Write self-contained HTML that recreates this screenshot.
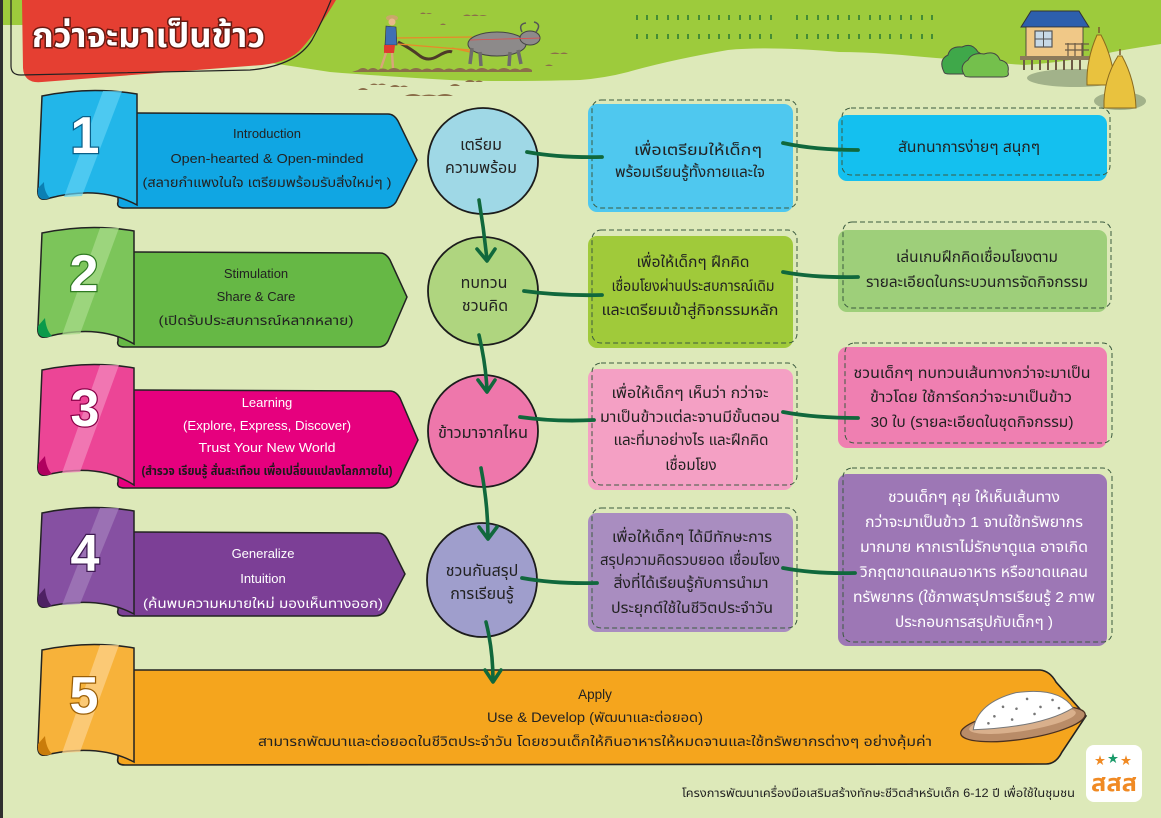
<!DOCTYPE html>
<html><head><meta charset="utf-8">
<style>
html,body{margin:0;padding:0;width:1161px;height:818px;overflow:hidden;background:#dde9b9}
svg{display:block}
text{font-family:"Liberation Sans","Noto Sans Thai","Noto Sans Thai UI","Loma","Garuda","Tlwg Typo","Norasi","Noto Sans CJK SC",sans-serif}
</style></head><body>
<svg width="1161" height="818" viewBox="0 0 1161 818" xmlns="http://www.w3.org/2000/svg">
<rect width="1161" height="818" fill="#dde9b9"/>
<!-- top green hill -->
<path d="M0,0 H1161 V44 Q1135,48 1113,52 Q1070,62 1024,65 Q960,60 913,56 Q870,52 839,52 Q770,46 728,50 Q670,60 628,72 Q605,78 580,80 Q500,82 450,80 Q380,76 330,72 L22,25 L0,25 Z" fill="#9dcb3c"/>
<rect x="0" y="0" width="3" height="818" fill="#2f2f2f"/>

<!-- title banner -->
<path d="M22,0 L336,0 Q318,30 302,48 Q290,62 262,65 L42,82 Q24,84 23,68 Z" fill="#e53f32"/>
<path d="M11,0 L11,66 Q11,75 21,75 L250,70 Q296,66 312,40 Q323,20 331,0" fill="none" stroke="#222" stroke-width="1.2"/>
<text x="32" y="47" font-size="34" font-weight="bold" fill="#fff" stroke="#6a1a12" stroke-width="3" paint-order="stroke" textLength="233" lengthAdjust="spacingAndGlyphs">กว่าจะมาเป็นข้าว</text>

<!-- farmer & buffalo scene -->
<g fill="#8b6e4a">
<path d="M358,70 q5,-4 10,0 q5,-4 10,0 q5,-3 10,0 q6,-4 12,0 q5,-3 10,0 q6,-4 12,0 q5,-3 10,0 q6,-4 12,0 q5,-3 10,0 q6,-4 12,0 q5,-3 10,0 q6,-4 12,0 q5,-3 10,0 q6,-4 12,0 q5,-3 10,0 q6,-4 12,0 l0,2 l-180,0z"/>
<path d="M420,14 q3,-3 6,0 q3,-2 6,0z M463,16 q4,-3 8,0 q4,-3 8,0 q4,-2 8,0z M440,25 q3,-3 6,0z M550,54 q5,-3 10,0 q4,-3 8,0z"/>
<path d="M358,90 q5,-4 10,0z M370,85 q4,-3 8,0 q4,-3 8,0z M390,87 q5,-4 10,0 q4,-3 8,0z M405,96 q8,-4 16,0 q8,-3 16,0 q8-4 16,0z M450,86 q5,-4 10,0z M465,82 q5,-4 10,0 q4,-3 8,0z M545,66 q4,-3 8,0z"/>
</g>
<path d="M398,42 Q410,48 420,56 Q428,62 438,56 Q448,50 452,52" fill="none" stroke="#4d3a28" stroke-width="3"/>
<path d="M396,38 L472,37 M398,44 L470,50 M452,48 L470,52" stroke="#e8892a" stroke-width="1.3" fill="none"/>
<ellipse cx="392" cy="18" rx="6" ry="3" fill="#c9a86a"/>
<circle cx="392" cy="22" r="3.5" fill="#e8b98a"/>
<path d="M386,26 L396,27 L397,45 L385,45 Z" fill="#3f6fb5" stroke="#333" stroke-width=".6"/>
<path d="M384,45 L395,45 L394,53 L384,53 Z" fill="#e03a2f"/>
<path d="M386,53 L381,68 M392,53 L393,68" stroke="#d9a57a" stroke-width="2.4"/>
<g stroke="#444" stroke-width="1">
<ellipse cx="497" cy="44" rx="29" ry="12" fill="#8d8a8a"/>
<path d="M472,48 L470,64 M480,52 L481,66 M510,52 L509,66 M518,50 L521,64" stroke="#6e6b6b" stroke-width="3.5"/>
<ellipse cx="530" cy="38" rx="10" ry="7" fill="#8d8a8a"/>
<path d="M522,32 q-4,-8 4,-9 M536,32 q6,-8 -2,-10" fill="none" stroke="#555" stroke-width="1.5"/>
</g>
<path d="M470,40 L540,38" stroke="#e34a4a" stroke-width=".8"/>

<!-- rice sprouts -->
<path d="M637,15v5M647,15v5M657,15v5M668,15v5M678,15v5M688,15v5M699,15v5M709,15v5M719,15v5M729,15v5M740,15v5M750,15v5M760,15v5M771,15v5M797,15v5M807,15v5M818,15v5M828,15v5M838,15v5M849,15v5M859,15v5M870,15v5M880,15v5M890,15v5M901,15v5M911,15v5M922,15v5M932,15v5M637,34v5M647,34v5M657,34v5M668,34v5M678,34v5M688,34v5M699,34v5M709,34v5M719,34v5M729,34v5M740,34v5M750,34v5M760,34v5M771,34v5M797,34v5M807,34v5M818,34v5M828,34v5M838,34v5M849,34v5M859,34v5M870,34v5M880,34v5M890,34v5M901,34v5M911,34v5M922,34v5M932,34v5" stroke="#2e7d32" stroke-width="1.6"/>

<!-- house, bushes, haystacks -->
<ellipse cx="1075" cy="78" rx="48" ry="9" fill="#a2b28a"/>
<ellipse cx="1120" cy="101" rx="26" ry="9" fill="#a2b28a"/>
<path d="M944,72 Q938,60 948,55 Q950,46 962,47 Q972,42 978,52 Q986,56 982,66 Q986,72 978,74 L950,74 Q944,74 944,72Z" fill="#3fa84a" stroke="#444" stroke-width="1"/>
<path d="M965,76 Q958,66 968,60 Q972,52 984,54 Q996,50 1000,60 Q1010,62 1008,72 Q1010,77 1002,77 L972,77 Q965,77 965,76Z" fill="#74c04c" stroke="#444" stroke-width="1"/>
<path d="M1021,27 L1031,11 L1079,11 L1089,27 Z" fill="#2d5fad" stroke="#333" stroke-width="1"/>
<rect x="1026" y="27" width="57" height="30" fill="#f0c887" stroke="#333" stroke-width=".8"/>
<rect x="1035" y="31" width="17" height="16" fill="#c7d9e6" stroke="#555" stroke-width="1.2"/>
<path d="M1043.5,31v16M1035,39h17" stroke="#555" stroke-width="1"/>
<path d="M1065,44h24M1065,50h24M1068,43v14M1075,43v14M1082,43v14" stroke="#6b5b45" stroke-width="1.2"/>
<rect x="1020" y="56" width="75" height="4" fill="#8c7a5a"/>
<path d="M1024,60v10M1032,60v10M1040,60v10M1048,60v10M1056,60v10M1064,60v10M1072,60v10M1080,60v10" stroke="#6b5b45" stroke-width="2"/>
<path d="M1097,35 Q1086,60 1087,85 L1115,85 Q1113,58 1101,35 Z" fill="#e9c23e" stroke="#8a6a1e" stroke-width="1"/>
<path d="M1118,56 Q1103,80 1104,108 L1136,108 Q1135,80 1122,56 Z" fill="#e9c23e" stroke="#8a6a1e" stroke-width="1"/>
<path d="M1099,33v-6M1120,55v-6" stroke="#7a5a2e" stroke-width="1.5"/>

<!-- ===== Row banners ===== -->
<!-- row1 -->
<path d="M118,115 Q120,113 135,113 L388,114 Q394,114 398,121 L417,160 L396,202 Q392,208 384,208 L125,208 Q116,208 118,202 Z" fill="#10a6e3" stroke="#222" stroke-width="1.5"/>
<path d="M42,96 Q90,86 137,94 L137,205 Q100,185 50,198 Q36,203 38,188 L42,96 Z" fill="#22b6e9" stroke="#222" stroke-width="1.5"/>
<path d="M103,91 L122,91 L82,196 L64,197 Z" fill="#5fd2f4" opacity=".7"/>
<path d="M38,188 Q36,203 50,198 Q44,192 44,182 Z" fill="#0b7fb3"/>
<text x="85" y="153" font-size="52" font-weight="bold" fill="#fff" text-anchor="middle" stroke="#0a5f88" stroke-width="2.5" paint-order="stroke">1</text>
<g font-size="13" fill="#222" text-anchor="middle">
<text x="267" y="138">Introduction</text>
<text x="267" y="163" textLength="193" lengthAdjust="spacingAndGlyphs">Open-hearted &amp; Open-minded</text>
<text x="267" y="187" textLength="249" lengthAdjust="spacingAndGlyphs">(สลายกำแพงในใจ เตรียมพร้อมรับสิ่งใหม่ๆ )</text>
</g>

<!-- row2 -->
<path d="M118,254 Q120,252 135,252 L380,253 Q386,253 390,260 L407,297 L388,341 Q385,347 378,347 L125,347 Q116,347 118,341 Z" fill="#66b845" stroke="#222" stroke-width="1.5"/>
<path d="M42,233 Q90,223 134,231 L134,344 Q100,324 50,336 Q36,341 38,326 L42,233 Z" fill="#7cc55a" stroke="#222" stroke-width="1.5"/>
<path d="M100,228 L119,228 L80,334 L62,335 Z" fill="#a7d98a" opacity=".75"/>
<path d="M38,326 Q36,341 52,336 Q46,330 45,318 Z" fill="#0a9a4a"/>
<text x="84" y="291" font-size="52" font-weight="bold" fill="#fff" text-anchor="middle" stroke="#2f7a22" stroke-width="2.5" paint-order="stroke">2</text>
<g font-size="13" fill="#222" text-anchor="middle">
<text x="256" y="278">Stimulation</text>
<text x="256" y="301">Share &amp; Care</text>
<text x="256" y="325" textLength="195" lengthAdjust="spacingAndGlyphs">(เปิดรับประสบการณ์หลากหลาย)</text>
</g>

<!-- row3 -->
<path d="M118,392 Q120,390 135,390 L390,391 Q396,391 400,398 L418,440 L398,482 Q394,488 386,488 L125,488 Q116,488 118,482 Z" fill="#e6007e" stroke="#222" stroke-width="1.5"/>
<path d="M42,370 Q90,360 134,368 L134,485 Q100,463 50,474 Q36,479 38,464 L42,370 Z" fill="#ec4596" stroke="#222" stroke-width="1.5"/>
<path d="M100,365 L119,365 L80,472 L62,473 Z" fill="#f387bb" opacity=".75"/>
<path d="M38,464 Q36,479 52,474 Q46,468 45,456 Z" fill="#b0005f"/>
<text x="85" y="426" font-size="52" font-weight="bold" fill="#fff" text-anchor="middle" stroke="#8a0048" stroke-width="2.5" paint-order="stroke">3</text>
<g font-size="13" fill="#fff" text-anchor="middle">
<text x="267" y="407">Learning</text>
<text x="267" y="430" textLength="168" lengthAdjust="spacingAndGlyphs">(Explore, Express, Discover)</text>
<text x="267" y="452" textLength="137" lengthAdjust="spacingAndGlyphs">Trust Your New World</text>
</g>
<text x="267" y="475" font-size="12" font-weight="bold" fill="#1a1a1a" text-anchor="middle" textLength="251" lengthAdjust="spacingAndGlyphs">(สำรวจ เรียนรู้ สั่นสะเทือน เพื่อเปลี่ยนแปลงโลกภายใน)</text>

<!-- row4 -->
<path d="M118,534 Q120,532 135,532 L378,533 Q384,533 388,540 L405,574 L386,610 Q382,616 374,616 L125,616 Q116,616 118,610 Z" fill="#7c3f96" stroke="#222" stroke-width="1.5"/>
<path d="M42,513 Q90,503 134,511 L134,614 Q100,596 50,606 Q36,611 38,596 L42,513 Z" fill="#8650a2" stroke="#222" stroke-width="1.5"/>
<path d="M100,508 L119,508 L80,604 L62,605 Z" fill="#a27cba" opacity=".75"/>
<path d="M38,596 Q36,611 52,606 Q46,600 45,588 Z" fill="#4e2163"/>
<text x="85" y="571" font-size="52" font-weight="bold" fill="#fff" text-anchor="middle" stroke="#3e1a52" stroke-width="2.5" paint-order="stroke">4</text>
<g font-size="13" fill="#fff" text-anchor="middle">
<text x="263" y="558">Generalize</text>
<text x="263" y="583">Intuition</text>
<text x="263" y="608" textLength="240" lengthAdjust="spacingAndGlyphs">(ค้นพบความหมายใหม่ มองเห็นทางออก)</text>
</g>

<!-- row5 -->
<path d="M118,672 Q120,670 135,670 L1040,670 Q1050,671 1056,682 L1086,716 L1062,752 Q1056,764 1046,764 L125,765 Q116,765 118,758 Z" fill="#f5a51d" stroke="#222" stroke-width="1.6"/>
<path d="M42,650 Q90,640 134,648 L134,762 Q100,744 50,754 Q36,759 38,744 L42,650 Z" fill="#f7b23a" stroke="#222" stroke-width="1.5"/>
<path d="M100,645 L119,645 L80,752 L62,753 Z" fill="#fcd08a" opacity=".75"/>
<path d="M38,744 Q36,759 52,754 Q46,748 45,736 Z" fill="#c97c0a"/>
<text x="84" y="713" font-size="52" font-weight="bold" fill="#fff" text-anchor="middle" stroke="#9a5e06" stroke-width="2.5" paint-order="stroke">5</text>
<g font-size="13.5" fill="#222" text-anchor="middle">
<text x="595" y="699">Apply</text>
<text x="595" y="722" textLength="216" lengthAdjust="spacingAndGlyphs">Use &amp; Develop (พัฒนาและต่อยอด)</text>
<text x="595" y="746" textLength="674" lengthAdjust="spacingAndGlyphs">สามารถพัฒนาและต่อยอดในชีวิตประจำวัน โดยชวนเด็กให้กินอาหารให้หมดจานและใช้ทรัพยากรต่างๆ อย่างคุ้มค่า</text>
</g>

<!-- plate -->
<g transform="rotate(-9 1022 718)">
<ellipse cx="1022" cy="724" rx="63" ry="15" fill="#b98c68" stroke="#4a3020" stroke-width="1.3"/>
<ellipse cx="1022" cy="721" rx="54" ry="10" fill="#d9b08c"/>
<path d="M972,722 Q980,696 1020,692 Q1064,693 1074,716 Q1040,730 972,722 Z" fill="#fff" stroke="#777" stroke-width="1"/>
<g fill="#777"><circle cx="995" cy="712" r="1.3"/><circle cx="1005" cy="704" r="1.3"/><circle cx="1018" cy="708" r="1.3"/><circle cx="1030" cy="700" r="1.3"/><circle cx="1042" cy="710" r="1.3"/><circle cx="1055" cy="705" r="1.3"/><circle cx="1012" cy="718" r="1.3"/><circle cx="1035" cy="716" r="1.3"/><circle cx="1060" cy="714" r="1.3"/><circle cx="988" cy="718" r="1.3"/></g>
</g>

<!-- ===== circles ===== -->
<g stroke="#1c1c1c" stroke-width="1.8">
<ellipse cx="483" cy="161" rx="55" ry="53" fill="#9fd8e6"/>
<ellipse cx="483" cy="291" rx="55" ry="54" fill="#afd57f"/>
<ellipse cx="483" cy="431" rx="55" ry="56" fill="#ee77ab"/>
<ellipse cx="482" cy="580" rx="55" ry="57" fill="#9f9ecc"/>
</g>
<g font-size="16" fill="#222" text-anchor="middle">
<text x="481" y="150">เตรียม</text>
<text x="481" y="173">ความพร้อม</text>
<text x="484" y="288">ทบทวน</text>
<text x="485" y="311">ชวนคิด</text>
<text x="483" y="438" textLength="90" lengthAdjust="spacingAndGlyphs">ข้าวมาจากไหน</text>
<text x="482" y="576">ชวนกันสรุป</text>
<text x="482" y="599">การเรียนรู้</text>
</g>

<!-- arrows between circles -->
<g fill="none" stroke="#10683c" stroke-width="3.6" stroke-linecap="round" stroke-linejoin="round">
<path d="M479,200 Q484,230 487,260"/><path d="M477,249 L487,261 L495,249"/>
<path d="M479,335 Q486,365 487,391"/><path d="M478,380 L487,392 L495,380"/>
<path d="M481,468 Q488,505 488,538"/><path d="M479,527 L488,539 L497,527"/>
<path d="M486,622 Q493,650 493,681"/><path d="M485,670 L493,682 L501,670"/>
</g>

<!-- ===== boxes column 1 ===== -->
<g>
<rect x="588" y="104" width="205" height="108" rx="9" fill="#4fc8ef"/>
<rect x="592" y="100" width="205" height="108" rx="9" fill="none" stroke="#3b5a3f" stroke-width="1" stroke-dasharray="5 3"/>
<rect x="588" y="236" width="205" height="112" rx="9" fill="#a0ca3a"/>
<rect x="592" y="230" width="205" height="113" rx="9" fill="none" stroke="#3b5a3f" stroke-width="1" stroke-dasharray="5 3"/>
<rect x="588" y="369" width="205" height="121" rx="9" fill="#f4a0c4"/>
<rect x="592" y="363" width="205" height="122" rx="9" fill="none" stroke="#3b5a3f" stroke-width="1" stroke-dasharray="5 3"/>
<rect x="588" y="513" width="205" height="119" rx="9" fill="#a98dc0"/>
<rect x="592" y="508" width="205" height="120" rx="9" fill="none" stroke="#3b5a3f" stroke-width="1" stroke-dasharray="5 3"/>
</g>
<g font-size="15" fill="#222" text-anchor="middle">
<text x="698" y="155" textLength="128" lengthAdjust="spacingAndGlyphs">เพื่อเตรียมให้เด็กๆ</text>
<text x="690" y="177" textLength="150" lengthAdjust="spacingAndGlyphs">พร้อมเรียนรู้ทั้งกายและใจ</text>
<text x="693" y="267" textLength="113" lengthAdjust="spacingAndGlyphs">เพื่อให้เด็กๆ ฝึกคิด</text>
<text x="693" y="291" textLength="163" lengthAdjust="spacingAndGlyphs">เชื่อมโยงผ่านประสบการณ์เดิม</text>
<text x="690" y="315" textLength="177" lengthAdjust="spacingAndGlyphs">และเตรียมเข้าสู่กิจกรรมหลัก</text>
<text x="690" y="398" textLength="157" lengthAdjust="spacingAndGlyphs">เพื่อให้เด็กๆ เห็นว่า กว่าจะ</text>
<text x="690" y="422" textLength="180" lengthAdjust="spacingAndGlyphs">มาเป็นข้าวแต่ละจานมีขั้นตอน</text>
<text x="691" y="445" textLength="155" lengthAdjust="spacingAndGlyphs">และที่มาอย่างไร และฝึกคิด</text>
<text x="691" y="470">เชื่อมโยง</text>
<text x="692" y="542" textLength="160" lengthAdjust="spacingAndGlyphs">เพื่อให้เด็กๆ ได้มีทักษะการ</text>
<text x="690" y="565" textLength="180" lengthAdjust="spacingAndGlyphs">สรุปความคิดรวบยอด เชื่อมโยง</text>
<text x="691" y="588" textLength="155" lengthAdjust="spacingAndGlyphs">สิ่งที่ได้เรียนรู้กับการนำมา</text>
<text x="692" y="613" textLength="162" lengthAdjust="spacingAndGlyphs">ประยุกต์ใช้ในชีวิตประจำวัน</text>
</g>

<!-- ===== boxes column 2 ===== -->
<g>
<rect x="838" y="115" width="269" height="66" rx="9" fill="#14c0ef"/>
<rect x="842" y="108" width="268" height="67" rx="9" fill="none" stroke="#3b5a3f" stroke-width="1" stroke-dasharray="5 3"/>
<rect x="838" y="230" width="269" height="82" rx="9" fill="#9ecf7a"/>
<rect x="843" y="222" width="268" height="86" rx="9" fill="none" stroke="#3b5a3f" stroke-width="1" stroke-dasharray="5 3"/>
<rect x="838" y="347" width="269" height="101" rx="9" fill="#ef7fb1"/>
<rect x="845" y="343" width="267" height="100" rx="9" fill="none" stroke="#3b5a3f" stroke-width="1" stroke-dasharray="5 3"/>
<rect x="838" y="474" width="269" height="172" rx="9" fill="#9d77b5"/>
<rect x="843" y="468" width="269" height="174" rx="9" fill="none" stroke="#3b5a3f" stroke-width="1" stroke-dasharray="5 3"/>
</g>
<g font-size="15" fill="#222" text-anchor="middle">
<text x="969" y="152" textLength="142" lengthAdjust="spacingAndGlyphs">สันทนาการง่ายๆ สนุกๆ</text>
<text x="977" y="262" textLength="162" lengthAdjust="spacingAndGlyphs">เล่นเกมฝึกคิดเชื่อมโยงตาม</text>
<text x="977" y="287" textLength="222" lengthAdjust="spacingAndGlyphs">รายละเอียดในกระบวนการจัดกิจกรรม</text>
<text x="972" y="378" textLength="237" lengthAdjust="spacingAndGlyphs">ชวนเด็กๆ ทบทวนเส้นทางกว่าจะมาเป็น</text>
<text x="971" y="402" textLength="202" lengthAdjust="spacingAndGlyphs">ข้าวโดย ใช้การ์ดกว่าจะมาเป็นข้าว</text>
<text x="972" y="427" textLength="203" lengthAdjust="spacingAndGlyphs">30 ใบ (รายละเอียดในชุดกิจกรรม)</text>
</g>
<g font-size="15" fill="#fff" text-anchor="middle">
<text x="974" y="502" textLength="172" lengthAdjust="spacingAndGlyphs">ชวนเด็กๆ คุย ให้เห็นเส้นทาง</text>
<text x="974" y="527" textLength="218" lengthAdjust="spacingAndGlyphs">กว่าจะมาเป็นข้าว 1 จานใช้ทรัพยากร</text>
<text x="974" y="552" textLength="228" lengthAdjust="spacingAndGlyphs">มากมาย หากเราไม่รักษาดูแล อาจเกิด</text>
<text x="974" y="577" textLength="228" lengthAdjust="spacingAndGlyphs">วิกฤตขาดแคลนอาหาร หรือขาดแคลน</text>
<text x="974" y="602" textLength="242" lengthAdjust="spacingAndGlyphs">ทรัพยากร (ใช้ภาพสรุปการเรียนรู้ 2 ภาพ</text>
<text x="974" y="627" textLength="158" lengthAdjust="spacingAndGlyphs">ประกอบการสรุปกับเด็กๆ )</text>
</g>

<!-- connectors -->
<g fill="none" stroke="#10683c" stroke-linecap="round">
<path d="M527,152 Q560,158 602,157" stroke-width="3.8"/>
<path d="M524,291 Q560,296 602,295" stroke-width="3.8"/>
<path d="M520,417 Q555,422 594,420" stroke-width="3.8"/>
<path d="M522,578 Q555,584 597,583" stroke-width="3.8"/>
<path d="M783,143 Q815,150 858,150" stroke-width="3.8"/>
<path d="M783,272 Q815,278 858,277" stroke-width="3.8"/>
<path d="M783,412 Q815,418 858,418" stroke-width="3.8"/>
<path d="M783,568 Q815,574 855,573" stroke-width="3.8"/>
</g>

<!-- footer & logo -->
<text x="1075" y="797" font-size="11.5" fill="#222" text-anchor="end" textLength="393" lengthAdjust="spacingAndGlyphs">โครงการพัฒนาเครื่องมือเสริมสร้างทักษะชีวิตสำหรับเด็ก 6-12 ปี เพื่อใช้ในชุมชน</text>
<rect x="1086" y="745" width="56" height="57" rx="8" fill="#fff"/>
<g font-size="11" font-weight="bold" text-anchor="middle">
<text x="1100" y="764" fill="#f08a24">★</text>
<text x="1113" y="762" fill="#1a9a6a">★</text>
<text x="1126" y="764" fill="#f08a24">★</text>
</g>
<text x="1114" y="791" font-size="24" font-weight="bold" fill="#f08a24" text-anchor="middle" textLength="46" lengthAdjust="spacingAndGlyphs">สสส</text>
</svg>
</body></html>
